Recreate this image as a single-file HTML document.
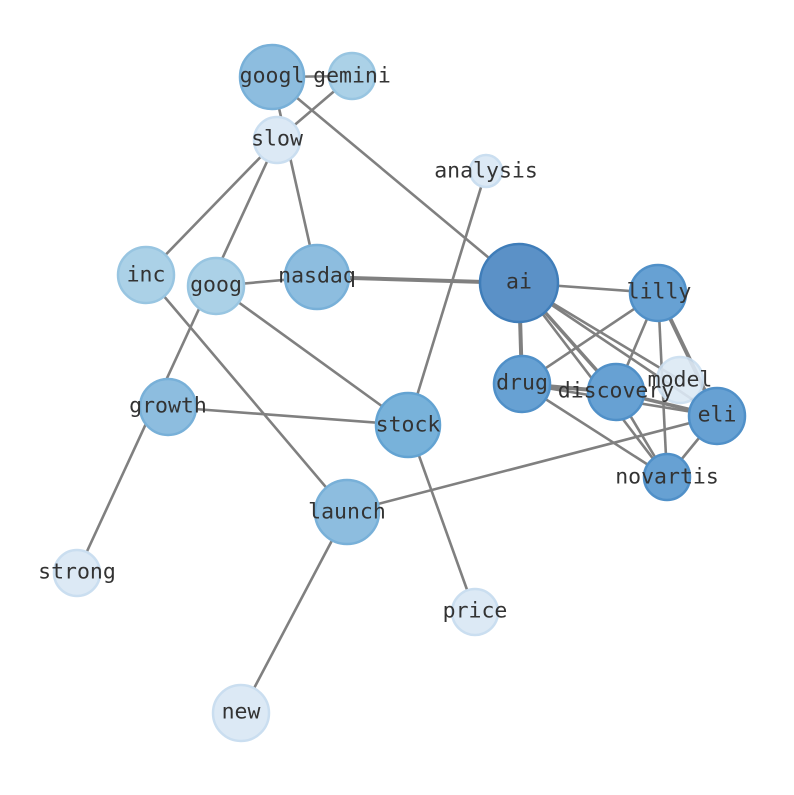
<!DOCTYPE html>
<html><head><meta charset="utf-8"><style>
html,body{margin:0;padding:0;background:#fff;}
text{font-family:"DejaVu Sans Mono","Liberation Mono",monospace;font-size:21.5px;fill:#333;text-anchor:middle;dominant-baseline:central;}
</style></head><body>
<svg width="794" height="790" xmlns="http://www.w3.org/2000/svg">
<g stroke="#808080" stroke-width="2.6" fill="none">
<line x1="272" y1="77" x2="352" y2="76"/>
<line x1="272" y1="77" x2="317" y2="277"/>
<line x1="272" y1="77" x2="519" y2="283"/>
<line x1="352" y1="76" x2="277" y2="140"/>
<line x1="277" y1="140" x2="146" y2="275"/>
<line x1="277" y1="140" x2="77" y2="573"/>
<line x1="146" y1="275" x2="347" y2="512"/>
<line x1="216" y1="286" x2="317" y2="277"/>
<line x1="216" y1="286" x2="408" y2="425"/>
<line x1="317" y1="277" x2="519" y2="283" stroke-width="4"/>
<line x1="486" y1="171" x2="408" y2="425"/>
<line x1="408" y1="425" x2="475" y2="612"/>
<line x1="168" y1="407" x2="408" y2="425"/>
<line x1="347" y1="512" x2="241" y2="713"/>
<line x1="347" y1="512" x2="717" y2="416"/>
<line x1="519" y1="283" x2="658" y2="293"/>
<line x1="519" y1="283" x2="522" y2="384" stroke-width="4"/>
<line x1="519" y1="283" x2="616" y2="392" stroke-width="3.5"/>
<line x1="519" y1="283" x2="717" y2="416"/>
<line x1="519" y1="283" x2="667" y2="477"/>
<line x1="519" y1="283" x2="680" y2="380"/>
<line x1="522" y1="384" x2="658" y2="293"/>
<line x1="522" y1="384" x2="616" y2="392" stroke-width="4"/>
<line x1="522" y1="384" x2="717" y2="416"/>
<line x1="522" y1="384" x2="667" y2="477"/>
<line x1="616" y1="392" x2="658" y2="293"/>
<line x1="658" y1="293" x2="717" y2="416" stroke-width="4"/>
<line x1="658" y1="293" x2="667" y2="477"/>
<line x1="616" y1="392" x2="717" y2="416" stroke-width="3.5"/>
<line x1="616" y1="392" x2="667" y2="477"/>
<line x1="717" y1="416" x2="667" y2="477"/>
</g>
<g stroke-width="2.5">
<circle cx="272" cy="77" r="32" fill="#8dbddf" stroke="#78b0d8"/>
<circle cx="352" cy="76" r="23" fill="#abd1e7" stroke="#98c5e1"/>
<circle cx="277" cy="140" r="23" fill="#dce9f5" stroke="#cadef0"/>
<circle cx="486" cy="171" r="16" fill="#dce9f5" stroke="#cadef0"/>
<circle cx="146" cy="275" r="28" fill="#abd1e7" stroke="#98c5e1"/>
<circle cx="216" cy="286" r="28" fill="#abd1e7" stroke="#98c5e1"/>
<circle cx="317" cy="277" r="32" fill="#8dbddf" stroke="#78b0d8"/>
<circle cx="519" cy="283" r="39" fill="#5b91c7" stroke="#3f7db9"/>
<circle cx="658" cy="293" r="28" fill="#67a1d3" stroke="#5090c8"/>
<circle cx="680" cy="380" r="23" fill="#dce9f5" stroke="#cadef0" opacity="0.9"/>
<circle cx="522" cy="384" r="28" fill="#67a1d3" stroke="#5090c8"/>
<circle cx="616" cy="392" r="28" fill="#67a1d3" stroke="#5090c8"/>
<circle cx="717" cy="416" r="28" fill="#67a1d3" stroke="#5090c8"/>
<circle cx="667" cy="477" r="23" fill="#67a1d3" stroke="#5090c8"/>
<circle cx="168" cy="407" r="28" fill="#8dbddf" stroke="#78b0d8"/>
<circle cx="408" cy="425" r="32" fill="#78b2da" stroke="#63a3d2"/>
<circle cx="347" cy="512" r="32" fill="#8dbddf" stroke="#78b0d8"/>
<circle cx="77" cy="573" r="23" fill="#dce9f5" stroke="#cadef0"/>
<circle cx="475" cy="612" r="23" fill="#dce9f5" stroke="#cadef0"/>
<circle cx="241" cy="713" r="28" fill="#dce9f5" stroke="#cadef0"/>
</g>
<g>
<text x="272" y="76">googl</text>
<text x="352" y="76">gemini</text>
<text x="277" y="139">slow</text>
<text x="486" y="171">analysis</text>
<text x="146" y="275">inc</text>
<text x="216" y="285">goog</text>
<text x="317" y="276">nasdaq</text>
<text x="519" y="282">ai</text>
<text x="659" y="292">lilly</text>
<text x="680" y="380">model</text>
<text x="522" y="383">drug</text>
<text x="616" y="391">discovery</text>
<text x="717" y="415">eli</text>
<text x="667" y="477">novartis</text>
<text x="168" y="406">growth</text>
<text x="408" y="425">stock</text>
<text x="347" y="512">launch</text>
<text x="77" y="572">strong</text>
<text x="475" y="611">price</text>
<text x="241" y="712">new</text>
</g>
</svg>
</body></html>
